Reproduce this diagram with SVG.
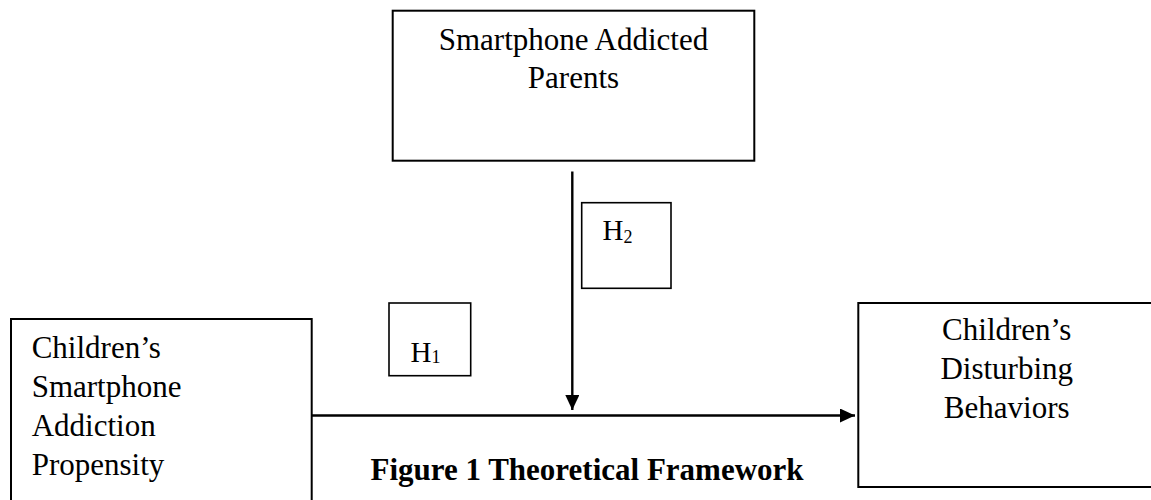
<svg xmlns="http://www.w3.org/2000/svg" width="1151" height="500" viewBox="0 0 1151 500">
  <style>
    .box { fill: #ffffff; stroke: #000000; stroke-width: 2; }
    .hbox { fill: #ffffff; stroke: #000000; stroke-width: 1.6; }
    .t { font-family: "Liberation Serif", "Times New Roman", serif; font-size: 31px; fill: #000000; }
    .h { font-family: "Liberation Serif", "Times New Roman", serif; font-size: 29px; fill: #000000; }
    .cap { font-family: "Liberation Serif", "Times New Roman", serif; font-size: 31px; font-weight: bold; fill: #000000; }
    .conn { stroke: #000000; stroke-width: 2.4; fill: none; }
  </style>
  <defs>
    <marker id="arrow" viewBox="0 0 15 14" refX="15" refY="7" markerWidth="15" markerHeight="14" markerUnits="userSpaceOnUse" orient="auto">
      <path d="M0,0 L15,7 L0,14 Z" fill="#000000"/>
    </marker>
  </defs>
  <rect width="1151" height="500" fill="#ffffff"/>

  <g id="node-parents">
    <rect class="box" x="392.7" y="10.7" width="361.6" height="150"/>
    <text class="t" x="573.5" y="50" text-anchor="middle">Smartphone Addicted</text>
    <text class="t" x="573.5" y="88" text-anchor="middle">Parents</text>
  </g>

  <g id="node-children-propensity">
    <rect class="box" x="11" y="319" width="300.7" height="200"/>
    <text class="t" x="31.7" y="358">Children’s</text>
    <text class="t" x="31.7" y="397">Smartphone</text>
    <text class="t" x="31.7" y="436">Addiction</text>
    <text class="t" x="31.7" y="475">Propensity</text>
  </g>

  <g id="node-children-behaviors">
    <rect class="box" x="858.3" y="303" width="300" height="184"/>
    <text class="t" x="1006.7" y="340" text-anchor="middle">Children’s</text>
    <text class="t" x="1006.7" y="379" text-anchor="middle">Disturbing</text>
    <text class="t" x="1006.7" y="418" text-anchor="middle">Behaviors</text>
  </g>

  <g id="node-h1">
    <rect class="hbox" x="389" y="303" width="81.7" height="72.7"/>
    <text class="h" x="410.5" y="361.7">H<tspan font-size="18" dy="1">1</tspan></text>
  </g>

  <g id="node-h2">
    <rect class="hbox" x="581.7" y="202.7" width="89.3" height="85.6"/>
    <text class="h" x="602.5" y="240">H<tspan font-size="18" dy="2.5">2</tspan></text>
  </g>

  <g id="connectors">
    <line class="conn" x1="311.7" y1="415.5" x2="855" y2="415.5" marker-end="url(#arrow)"/>
    <line class="conn" x1="572.3" y1="171.5" x2="572.3" y2="410" marker-end="url(#arrow)"/>
  </g>

  <text id="caption" class="cap" x="370.5" y="480">Figure 1 Theoretical Framework</text>
</svg>
